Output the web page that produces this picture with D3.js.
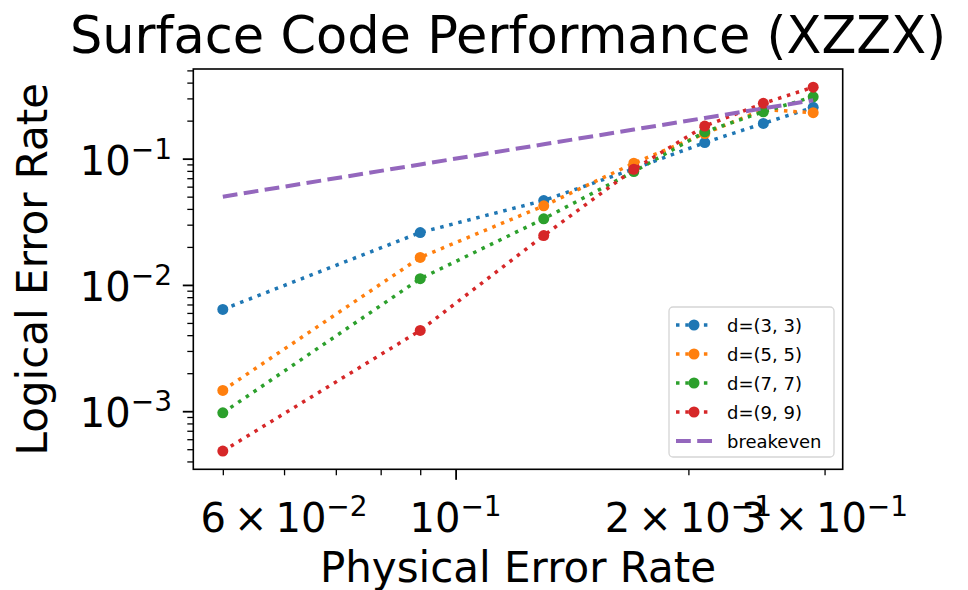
<!DOCTYPE html>
<html><head><meta charset="utf-8">
<script src="https://cdn.jsdelivr.net/npm/d3@7"></script>
<style>
html,body{margin:0;padding:0;background:#fff;}
text{font-family:"DejaVu Sans",sans-serif;fill:#000;}
</style></head>
<body>
<svg id="chart" width="968" height="590"></svg>
<script>
// ---- data ----
const physicalErrorRates = [0.05, 0.09, 0.13, 0.17, 0.21, 0.25, 0.29];
const seriesLabels = ["d=(3, 3)", "d=(5, 5)", "d=(7, 7)", "d=(9, 9)"];
const d3x3 = [0.0064, 0.026, 0.0466, 0.083, 0.134, 0.19, 0.255];
const d5x5 = [0.00146, 0.0165, 0.0423, 0.092, 0.158, 0.245, 0.231];
const d7x7 = [0.00097, 0.0112, 0.0334, 0.079, 0.163, 0.235, 0.309];
const d9x9 = [0.000483, 0.00436, 0.0246, 0.0824, 0.181, 0.274, 0.368];
const breakeven = [0.05, 0.09, 0.13, 0.17, 0.21, 0.25, 0.29];
const xMajorTicks = [0.1];
const xMinorTicks = [0.05, 0.06, 0.07, 0.08, 0.09, 0.2, 0.3];
const xTickLabels = [[0.06, "6", "−2"], [0.1, "", "−1"], [0.2, "2", "−1"], [0.3, "3", "−1"]];
const yMajorTicks = [0.001, 0.01, 0.1];
const yMinorTicks = [0.0004,0.0005,0.0006,0.0007,0.0008,0.0009,
  0.002,0.003,0.004,0.005,0.006,0.007,0.008,0.009,
  0.02,0.03,0.04,0.05,0.06,0.07,0.08,0.09,0.2,0.3,0.4,0.5];
const yTickLabels = [[0.001, "−3"], [0.01, "−2"], [0.1, "−1"]];

const colors = ["#1f77b4", "#ff7f0e", "#2ca02c", "#d62728"];
const breakevenColor = "#9467bd";
const series = [d3x3, d5x5, d7x7, d9x9];

// ---- layout ----
const L = 193.3, R = 842.7, T = 69, B = 469.3;
const svg = d3.select("#chart");

function logPad(ext, f) {
  const a = Math.log10(ext[0]), b = Math.log10(ext[1]), m = (b - a) * f;
  return [Math.pow(10, a - m), Math.pow(10, b + m)];
}
const allY = series.flat().concat(breakeven);
const x = d3.scaleLog().domain(logPad(d3.extent(physicalErrorRates), 0.05)).range([L, R]);
const y = d3.scaleLog().domain(logPad(d3.extent(allY), 0.05)).range([B, T]);

// axes ticks
function styleAxis(g, w) {
  g.select(".domain").remove();
  g.selectAll(".tick line").attr("stroke", "#000").attr("stroke-width", w);
  g.selectAll(".tick text").remove();
}
svg.append("g").attr("transform", `translate(0,${B})`)
  .call(d3.axisBottom(x).tickValues(xMinorTicks).tickSize(6).tickFormat(""))
  .call(g => styleAxis(g, 1.3));
svg.append("g").attr("transform", `translate(0,${B})`)
  .call(d3.axisBottom(x).tickValues(xMajorTicks).tickSize(10.5).tickFormat(""))
  .call(g => styleAxis(g, 1.8));
svg.append("g").attr("transform", `translate(${L},0)`)
  .call(d3.axisLeft(y).tickValues(yMinorTicks).tickSize(6).tickFormat(""))
  .call(g => styleAxis(g, 1.3));
svg.append("g").attr("transform", `translate(${L},0)`)
  .call(d3.axisLeft(y).tickValues(yMajorTicks).tickSize(10.5).tickFormat(""))
  .call(g => styleAxis(g, 1.8));

// tick labels
const tickFont = 40, supScale = 0.7;
xTickLabels.forEach(([v, mant, exp]) => {
  const t = svg.append("text").attr("x", x(v)).attr("y", 532)
    .attr("text-anchor", "middle").attr("font-size", tickFont);
  t.append("tspan").text(mant ? mant + "\u2009×\u200910" : "10");
  t.append("tspan").attr("dy", -0.4 * tickFont).attr("font-size", tickFont * supScale).text(exp);
});
yTickLabels.forEach(([v, exp]) => {
  const t = svg.append("text").attr("x", 172).attr("y", y(v) + 16)
    .attr("text-anchor", "end").attr("font-size", tickFont);
  t.append("tspan").text("10");
  t.append("tspan").attr("dy", -0.4 * tickFont).attr("font-size", tickFont * supScale).text(exp);
});

// lines
const line = d3.line().x((d, i) => x(physicalErrorRates[i])).y(d => y(d));
series.forEach((s, k) => {
  svg.append("path").datum(s).attr("d", line).attr("fill", "none")
    .attr("stroke", colors[k]).attr("stroke-width", 3.5).attr("stroke-dasharray", "3.5 5.8");
  svg.append("g").selectAll("circle").data(s).join("circle")
    .attr("cx", (d, i) => x(physicalErrorRates[i])).attr("cy", d => y(d))
    .attr("r", 5.5).attr("fill", colors[k]);
});
svg.append("path").datum(breakeven).attr("d", line).attr("fill", "none")
  .attr("stroke", breakevenColor).attr("stroke-width", 4).attr("stroke-dasharray", "14.8 6.4");

// frame
svg.append("rect").attr("x", L).attr("y", T).attr("width", R - L).attr("height", B - T)
  .attr("fill", "none").attr("stroke", "#000").attr("stroke-width", 1.6);

// legend
const lg = svg.append("g");
lg.append("rect").attr("x", 669).attr("y", 307).attr("width", 165).attr("height", 150)
  .attr("rx", 4).attr("fill", "#fff").attr("fill-opacity", 0.8).attr("stroke", "#d5d5d5").attr("stroke-width", 1.3);
const rowY = i => 325 + i * 29;
seriesLabels.forEach((lab, k) => {
  const yy = rowY(k);
  lg.append("line").attr("x1", 676).attr("x2", 712).attr("y1", yy).attr("y2", yy)
    .attr("stroke", colors[k]).attr("stroke-width", 3.5).attr("stroke-dasharray", "3.5 5.8");
  lg.append("circle").attr("cx", 694).attr("cy", yy).attr("r", 5.5).attr("fill", colors[k]);
  lg.append("text").attr("x", 727).attr("y", yy + 6.5).attr("font-size", 18).text(lab);
});
{
  const yy = rowY(4);
  lg.append("line").attr("x1", 676).attr("x2", 712).attr("y1", yy).attr("y2", yy)
    .attr("stroke", breakevenColor).attr("stroke-width", 4).attr("stroke-dasharray", "14.8 6.4");
  lg.append("text").attr("x", 727).attr("y", yy + 6.5).attr("font-size", 18).text("breakeven");
}

// titles
svg.append("text").attr("x", 508).attr("y", 53).attr("text-anchor", "middle")
  .attr("font-size", 51).text("Surface Code Performance (XZZX)");
svg.append("text").attr("x", 518).attr("y", 582).attr("text-anchor", "middle")
  .attr("font-size", 42).text("Physical Error Rate");
svg.append("text").attr("transform", `translate(47,${(T + B) / 2}) rotate(-90)`)
  .attr("text-anchor", "middle").attr("font-size", 42).text("Logical Error Rate");
</script>
</body></html>
